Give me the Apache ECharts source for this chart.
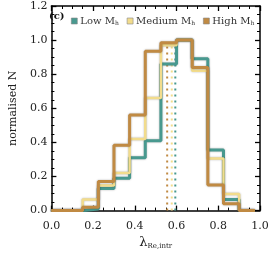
<!DOCTYPE html>
<html><head><meta charset="utf-8">
<script src="https://cdn.jsdelivr.net/npm/echarts@6/dist/echarts.min.js"></script>
<style>html,body{margin:0;padding:0;background:#fff}#c{width:272px;height:255px}</style>
</head><body><div id="c"></div>
<script>
var binEdges = [0, 0.075, 0.15, 0.225, 0.3, 0.375, 0.45, 0.525, 0.6, 0.675, 0.75, 0.825, 0.9, 0.975];
var lowMh    = [0, 0, 0.01, 0.13, 0.19, 0.31, 0.41, 0.86, 1.0, 0.89, 0.355, 0.065, 0];
var mediumMh = [0, 0, 0.065, 0.147, 0.22, 0.42, 0.66, 0.97, 1.0, 0.82, 0.305, 0.097, 0];
var highMh   = [0, 0, 0.02, 0.17, 0.383, 0.56, 0.935, 0.985, 1.0, 0.84, 0.15, 0.04, 0];
var medians  = {low: 0.594, medium: 0.577, high: 0.555};
var medianTop = 0.98;
var xTicks = [0, 0.2, 0.4, 0.6, 0.8, 1.0];
var yTicks = [0, 0.2, 0.4, 0.6, 0.8, 1.0, 1.2];

var FONT = 'DejaVu Serif';
var C_LOW = '#48998f', C_MED = '#f2dc8c', C_HIGH = '#c08a43';

function stepData(vals) {
  var d = [];
  for (var i = 0; i < vals.length; i++) d.push([binEdges[i], vals[i]]);
  d.push([binEdges[vals.length], vals[vals.length - 1]]);
  return d;
}
function hist(name, vals, color, w, z) {
  return {
    name: name, type: 'line', step: 'end', data: stepData(vals), symbol: 'none',
    z: z, itemStyle: {color: color},
    lineStyle: {color: color, width: w, shadowColor: 'rgba(0,0,0,0.3)', shadowBlur: 2},
    animation: false
  };
}
function med(name, m, color) {
  return {
    name: name, type: 'line', data: [[m, 0], [m, medianTop]], symbol: 'none', z: 1,
    lineStyle: {color: color, width: 2, type: [2, 4], cap: 'butt'}, animation: false
  };
}
function nameRich(){ return {
  a: {fontFamily: FONT, fontSize: 10, color: '#333'},
  s: {fontFamily: FONT, fontSize: 6, color: '#333', padding: [5, 0, 0, 0]}
};}

var axisCommon = {
  axisLine: {show: true, onZero: false, lineStyle: {color: '#000', width: 1.5}},
  axisTick: {show: true, inside: true, length: 5, lineStyle: {color: '#000', width: 1.3}},
  minorTick: {show: true, splitNumber: 4, length: 3, lineStyle: {color: '#000', width: 1}},
  splitLine: {show: false}
};

var chart = echarts.init(document.getElementById('c'));
chart.setOption({
  animation: false,
  grid: {left: 45, right: 12, top: 6, bottom: 43},
  legend: {
    data: ['Low', 'Medium', 'High'],
    left: 66, top: 11, icon: 'rect', itemWidth: 6, itemHeight: 6, itemGap: 8,
    itemStyle: {borderColor: '#888', borderWidth: 0.6},
    formatter: function (n) { return '{a|' + n + ' M}{s|h}'; },
    textStyle: {rich: nameRich(), padding: [0,0,0,-2]}
  },
  graphic: [{type: 'text', left: 49, top: 11, z: 100, style: {text: '(c)', fontFamily: FONT, fontSize: 10, fontWeight: 'bold', fill: '#111'}}],
  xAxis: [
    Object.assign({type: 'value', min: 0, max: 1, interval: 0.2, position: 'bottom',
      axisLabel: {fontFamily: FONT, fontSize: 11, color: '#222', margin: 10,
        formatter: function (v) { return v.toFixed(1); }},
      name: '{l|λ}{s|Re,intr}', nameLocation: 'middle', nameGap: 24,
      nameTextStyle: {rich: {
        l: {fontFamily: FONT, fontSize: 13, color: '#222'},
        s: {fontFamily: FONT, fontSize: 7, color: '#222', padding: [7, 0, 0, 0]}
      }}}, axisCommon),
    Object.assign({type: 'value', min: 0, max: 1, interval: 0.2, position: 'top',
      axisLabel: {show: false}}, axisCommon)
  ],
  yAxis: [
    Object.assign({type: 'value', min: 0, max: 1.2, interval: 0.2, position: 'left',
      axisLabel: {fontFamily: FONT, fontSize: 11, color: '#222', margin: 4,
        formatter: function (v) { return v.toFixed(1); }},
      name: 'normalised N', nameLocation: 'middle', nameGap: 28,
      nameTextStyle: {fontFamily: FONT, fontSize: 11, color: '#222'}}, axisCommon),
    Object.assign({type: 'value', min: 0, max: 1.2, interval: 0.2, position: 'right',
      axisLabel: {show: false}}, axisCommon)
  ],
  series: [
    med('medLow', medians.low, C_LOW),
    med('medMed', medians.medium, C_MED),
    med('medHigh', medians.high, C_HIGH),
    hist('Low', lowMh, C_LOW, 3, 3),
    hist('Medium', mediumMh, C_MED, 2.5, 4),
    hist('High', highMh, C_HIGH, 3, 5)
  ]
});
</script></body></html>
